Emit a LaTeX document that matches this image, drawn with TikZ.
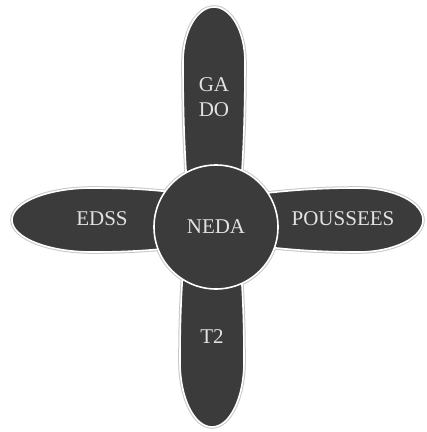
\documentclass[tikz,border=0pt]{standalone}
\usepackage{fontspec}
\setmainfont{Liberation Serif}
\definecolor{petalfill}{HTML}{3B3B3B}
\definecolor{halo}{HTML}{C8C8C8}
\definecolor{txt}{HTML}{E2E2E2}
\tikzset{
  petal/.style={fill=petalfill, draw=white, line width=1.6pt},
  petalhalo/.style={draw=halo, line width=3.6pt},
  lbl/.style={text=txt, font=\fontsize{21}{23}\selectfont, align=center, inner sep=0pt},
}
\newcommand{\toppetal}{(188,200) .. controls (185,160) and (183,120) .. (183,62)
  .. controls (183,31.6) and (196.9,7) .. (214,7)
  .. controls (231.1,7) and (245,31.6) .. (245,62)
  .. controls (245,120) and (243,160) .. (240,200) -- cycle}
\newcommand{\botpetal}{(185,245) .. controls (182,280) and (180,310) .. (180,362)
  .. controls (180,397.9) and (194.3,427) .. (212,427)
  .. controls (229.7,427) and (244,397.9) .. (244,362)
  .. controls (244,310) and (242,280) .. (239,245) -- cycle}
\newcommand{\leftpetal}{(195,195) .. controls (160,190) and (130,188) .. (92,188)
  .. controls (47.8,188) and (12,202.3) .. (12,220)
  .. controls (12,237.7) and (47.8,252) .. (92,252)
  .. controls (130,252) and (160,250) .. (195,245) -- cycle}
\newcommand{\rightpetal}{(250,195) .. controls (290,190) and (320,188) .. (358,188)
  .. controls (393.9,188) and (423,202.3) .. (423,220)
  .. controls (423,237.7) and (393.9,252) .. (358,252)
  .. controls (320,252) and (290,250) .. (250,245) -- cycle}
\begin{document}
\begin{tikzpicture}[x=1pt,y=-1pt]
\useasboundingbox (0,0) rectangle (427,432);
% halos
\path[petalhalo] \toppetal;
\path[petalhalo] \botpetal;
\path[petalhalo] \leftpetal;
\path[petalhalo] \rightpetal;
\draw[petalhalo] (216,227) circle[radius=62];
% petals
\path[petal] \toppetal;
\path[petal] \botpetal;
\path[petal] \leftpetal;
\path[petal] \rightpetal;
% centre circle
\node[petal, circle, minimum size=124pt, inner sep=0pt] (neda) at (216,227) {};
\node[lbl] (nedatxt) at (neda.center) {NEDA};
\node[lbl] (gado) at (214,97) {GA\\[2pt]DO};
\node[lbl] (edss) at (102,219) {EDSS};
\node[lbl] (pous) at (343,219) {POUSSEES};
\node[lbl] (t2) at (212,337) {T2};
\end{tikzpicture}
\end{document}
